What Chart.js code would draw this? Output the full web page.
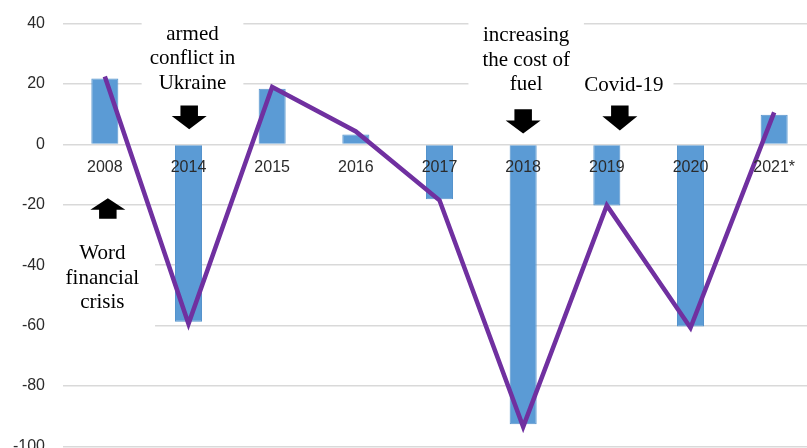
<!DOCTYPE html>
<html><head><meta charset="utf-8">
<script src="https://cdn.jsdelivr.net/npm/chart.js@4.4.1/dist/chart.umd.min.js"></script>
<style>
html,body{margin:0;padding:0;background:#fff;overflow:hidden;width:807px;height:448px}
#wrap{width:816px;height:448px;overflow:hidden}
#c{display:block;margin-top:-4px}
</style></head>
<body><div id="wrap"><canvas id="c" width="816" height="478"></canvas></div>
<script>
const categories = ['2008','2014','2015','2016','2017','2018','2019','2020','2021*'];
const barValues  = [21.8, -58.7, 18.4, 3.3, -18.2, -92.7, -20.2, -60.3, 9.8];
const lineValues = [22.5, -59.4, 19.0, 4.3, -18.5, -93.5, -20.2, -60.7, 10.6];
const yTicks = [40, 20, 0, -20, -40, -60, -80, -100];

// annotation texts: category index, first-line baseline (y value)
const noteTexts = [
  ['armed','conflict in','Ukraine'],
  ['increasing','the cost of','fuel'],
  ['Covid-19'],
  ['Word','financial','crisis']
];
const noteCats = [1, 5, 6, 0];
const noteBaselines = [34.7, 34.2, 17.6, -38.1];
// arrows: category index, shaft end, head base, tip (y values)
const arrowCats = [1, 5, 6, 0];
const arrowStarts = [12.9, 11.6, 12.9, -24.6];
const arrowHeads  = [9.4, 7.9, 9.3, -21.6];
const arrowTips   = [5.0, 3.6, 4.6, -17.8];

// layout-only styling of the annotations
const noteStyle = [{dx:4,pad:8},{dx:3,pad:14},{dx:17,pad:10},{dx:-2.5,pad:16}];
const arrowDx = [0.7, 0, 13, 3];
const LH = 24.5;

const annotPlugin = {
  id: 'annot',
  beforeDatasetsDraw(chart) {
    const {ctx, chartArea} = chart;
    const x = chart.scales.x, y = chart.scales.y;
    ctx.save();
    ctx.font = '21px "Liberation Serif", "Times New Roman", serif';
    noteTexts.forEach((lines, i) => {
      const cx = x.getPixelForValue(noteCats[i]) + noteStyle[i].dx;
      const y0 = y.getPixelForValue(noteBaselines[i]);
      const w = Math.max(...lines.map(t => ctx.measureText(t).width));
      let left = Math.max(cx - w/2 - noteStyle[i].pad, chartArea.left);
      let right = cx + w/2 + noteStyle[i].pad;
      const top = y0 - 22, bottom = y0 + (lines.length - 1) * LH + 21;
      ctx.fillStyle = '#fff';
      ctx.fillRect(left, top, right - left, bottom - top);
      ctx.fillStyle = '#000';
      ctx.textAlign = 'center';
      ctx.textBaseline = 'alphabetic';
      lines.forEach((t, k) => ctx.fillText(t, cx, y0 + k * LH));
    });
    arrowCats.forEach((c, i) => {
      const cx = x.getPixelForValue(c) + arrowDx[i];
      const ys = y.getPixelForValue(arrowStarts[i]);
      const yh = y.getPixelForValue(arrowHeads[i]);
      const yt = y.getPixelForValue(arrowTips[i]);
      const sw = 17.5, hw = 35;
      ctx.fillStyle = '#000';
      ctx.beginPath();
      ctx.moveTo(cx - sw/2, ys);
      ctx.lineTo(cx + sw/2, ys);
      ctx.lineTo(cx + sw/2, yh);
      ctx.lineTo(cx + hw/2, yh);
      ctx.lineTo(cx, yt);
      ctx.lineTo(cx - hw/2, yh);
      ctx.lineTo(cx - sw/2, yh);
      ctx.closePath();
      ctx.fill();
    });
    ctx.restore();
  }
};

const tickFont = {family: '"Liberation Sans", Arial, sans-serif', size: 16};

new Chart(document.getElementById('c'), {
  type: 'bar',
  data: {
    labels: categories,
    datasets: [
      {type: 'line', data: lineValues, borderColor: '#7030A0', borderWidth: 4.5,
       pointRadius: 0, tension: 0, fill: false},
      {type: 'bar', data: barValues, backgroundColor: '#5B9BD5',
       borderColor: '#5593CC', borderWidth: 1,
       barPercentage: 0.323, categoryPercentage: 1}
    ]
  },
  options: {
    responsive: false,
    animation: false,
    devicePixelRatio: 1,
    layout: {padding: {top: 19.6, bottom: 2, left: 0, right: 0}},
    plugins: {legend: {display: false}, tooltip: {enabled: false}},
    scales: {
      x: {
        type: 'category', offset: true, position: {y: 0},
        grid: {display: false}, border: {display: false},
        ticks: {z: 1, color: '#2b2b2b', font: tickFont, padding: 6, maxRotation: 0, autoSkip: false},
        afterFit(s) { s.height = 0; }
      },
      y: {
        min: -100, max: 40,
        grid: {color: '#D9D9D9', lineWidth: 1.5, drawTicks: false},
        border: {display: false},
        ticks: {color: '#2b2b2b', font: tickFont, padding: 18},
        afterBuildTicks(s) { s.ticks = yTicks.map(v => ({value: v})); },
        afterFit(s) { s.width = 63; }
      }
    }
  },
  plugins: [annotPlugin]
});
</script>
</body></html>
